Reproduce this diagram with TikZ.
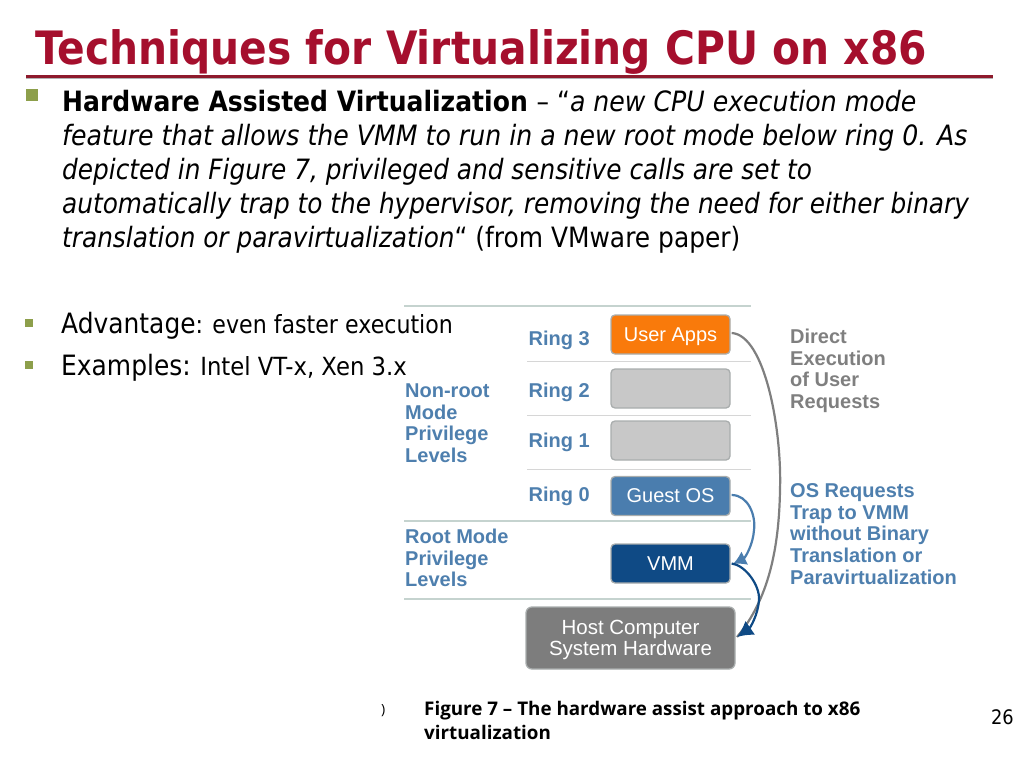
\documentclass[tikz,border=0pt]{standalone}
\usepackage{fontspec}
\usetikzlibrary{arrows.meta,shadows}
\setmainfont{DejaVu Sans}
\newfontfamily\titlef[FakeStretch=0.887]{DejaVu Sans Bold}
\newfontfamily\bodyb[FakeStretch=0.895]{DejaVu Sans Bold}
\newfontfamily\bodyi[FakeStretch=0.90]{DejaVu Sans Oblique}
\newfontfamily\bodyj[FakeStretch=0.885]{DejaVu Sans Oblique}
\newfontfamily\bodyr[FakeStretch=0.89]{DejaVu Sans}
\newfontfamily\bodyc[FakeStretch=0.885]{DejaVu Sans}
\newfontfamily\bodyd[FakeStretch=0.91]{DejaVu Sans}
\newfontfamily\figf{Liberation Sans}
\newfontfamily\capf{Open Sans}
\definecolor{titlered}{HTML}{A50F2D}
\definecolor{rulered}{HTML}{8E1A2C}
\definecolor{olive}{HTML}{8D9F4B}
\definecolor{figblue}{HTML}{4E7FAE}
\definecolor{figgrey}{HTML}{7F7F7F}
\definecolor{boxgrey}{HTML}{C8C8C8}
\definecolor{boxedge}{HTML}{A9ADAD}
\definecolor{sepgreen}{HTML}{C5D3CF}
\definecolor{userorange}{HTML}{F97A0B}
\definecolor{guestblue}{HTML}{4A7DAE}
\definecolor{vmmblue}{HTML}{0F4A85}
\definecolor{hostgrey}{HTML}{7D7D7D}
\tikzset{
  x=1pt,y=-1pt,
  linetext/.style={anchor=north west,inner sep=0pt,align=left,font=\fontsize{28}{34}\selectfont},
  ringlabel/.style={anchor=base west,inner sep=0pt,text=figblue,font=\figf\bfseries\fontsize{20}{22}\selectfont},
  sidelabel/.style={anchor=north west,inner sep=0pt,align=left,font=\figf\bfseries\fontsize{20}{21.6}\selectfont},
  ringbox/.style={draw=boxedge,line width=1.3pt,rounded corners=4pt,minimum width=119pt,minimum height=39pt,inner sep=0pt,text=white,font=\figf\fontsize{20}{22}\selectfont},
  thicksep/.style={draw=sepgreen,line width=2pt},
  thinsep/.style={draw=black!16,line width=.8pt},
  flow/.style={line width=2.2pt},
}
\begin{document}
\begin{tikzpicture}
\useasboundingbox (0,0) rectangle (1024,768);
% title
\node[anchor=base west,inner sep=0pt,text=titlered,font=\fontsize{46}{50}\selectfont\titlef] (title) at (35,64) {Techniques for Virtualizing CPU on x86};
\fill[black!30] (26,77.5) rectangle (993,79);
\fill[rulered] (26,74.5) rectangle (993,77.5);
% bullets
\fill[olive] (26,89) rectangle (38,101);
\fill[olive] (25,319) rectangle (33,327);
\fill[olive] (25,361) rectangle (33,369);
% paragraph
\node[linetext] (para) at (62,90) {{\bodyb Hardware Assisted Virtualization} {\bodyr – “}{\bodyi a new CPU execution mode}\\
{\bodyi feature that allows the VMM to run in a new root mode below ring 0. As}\\
{\bodyj depicted in Figure 7, privileged and sensitive calls are set to}\\
{\bodyj automatically trap to the hypervisor, removing the need for either binary}\\
{\bodyj translation or paravirtualization}{\bodyr “ (from VMware paper)}};
\node[anchor=base west,inner sep=0pt,font=\fontsize{28}{34}\selectfont] (adv) at (61,333) {{\bodyr Advantage}{\bodyc\fontsize{25}{30}\selectfont : even faster execution}};
\node[anchor=base west,inner sep=0pt,font=\fontsize{28}{34}\selectfont] (ex) at (61,375) {{\bodyr Examples:}{\bodyd\fontsize{25}{30}\selectfont{} Intel VT-x, Xen 3.x}};
% separators
\draw[thicksep] (404,306) -- (751,306);
\draw[thinsep] (527,361.5) -- (751,361.5);
\draw[thinsep] (527,415.5) -- (751,415.5);
\draw[thinsep] (527,469.5) -- (751,469.5);
\draw[thicksep] (404,521) -- (751,521);
\draw[thicksep] (404,599) -- (751,599);
% labels
\node[ringlabel] (r3) at (528.5,345) {Ring 3};
\node[ringlabel] (r2) at (528.5,397) {Ring 2};
\node[ringlabel] (r1) at (528.5,447) {Ring 1};
\node[ringlabel] (r0) at (528.5,501) {Ring 0};
\node[sidelabel,text=figblue] (nonroot) at (405,383.5) {Non-root\\Mode\\Privilege\\Levels};
\node[sidelabel,text=figblue] (root) at (405,529) {Root Mode\\Privilege\\Levels};
\node[sidelabel,text=figgrey] (direct) at (790,329) {Direct\\Execution\\of User\\Requests};
\node[sidelabel,text=figblue] (osreq) at (790,483.5) {OS Requests\\Trap to VMM\\without Binary\\Translation or\\Paravirtualization};
% boxes
\node[ringbox,fill=userorange,draw=boxedge] (user) at (670.5,334.5) {\rule{0pt}{17.5pt}User Apps};
\node[ringbox,fill=boxgrey] (ring2) at (670.5,388.5) {};
\node[ringbox,fill=boxgrey] (ring1) at (670.5,440.5) {};
\node[ringbox,fill=guestblue] (guest) at (670.5,496) {Guest OS};
\node[ringbox,fill=vmmblue] (vmm) at (670.5,563.5) {VMM};
\node[draw=boxedge,line width=1.3pt,rounded corners=6pt,fill=hostgrey,text=white,minimum width=209pt,minimum height=62pt,inner sep=0pt,align=center,font=\figf\fontsize{20.5}{21}\selectfont] (host) at (630.5,638) {\rule{0pt}{18.5pt}Host Computer\\System Hardware};
% connectors
\coordinate (hostin) at (737,637);
\draw[flow,draw=figgrey] (user.east) ++(1,-1.5) .. controls (765,335) and (782,430) .. (780,490) .. controls (779,550) and (768,600) .. (hostin);
\draw[flow,draw=guestblue,-{Latex[length=13pt,width=15pt]}] (guest.east) ++(1,-1) .. controls (748,495) and (756,515) .. (754,530) .. controls (753,545) and (745,558) .. (733,564);
\draw[flow,draw=vmmblue,-{Latex[length=16pt,width=17pt]}] (vmm.east) ++(1,0) .. controls (745,565) and (760,585) .. (759,600) .. controls (758,615) and (750,628) .. (hostin);
% caption
\node[anchor=base west,inner sep=0pt,font=\capf\bfseries\fontsize{18.8}{24}\selectfont] (capa) at (424,715) {Figure 7 – The hardware assist approach to x86};
\node[anchor=base west,inner sep=0pt,font=\capf\bfseries\fontsize{18.8}{24}\selectfont] (capb) at (424,739) {virtualization};
\node[anchor=base west,inner sep=0pt,font=\capf\fontsize{14}{16}\selectfont] (frag) at (381,714) {)};
\node[anchor=base east,inner sep=0pt,font=\bodyr\fontsize{20}{24}\selectfont] (page) at (1014,724) {26};
\end{tikzpicture}
\end{document}
